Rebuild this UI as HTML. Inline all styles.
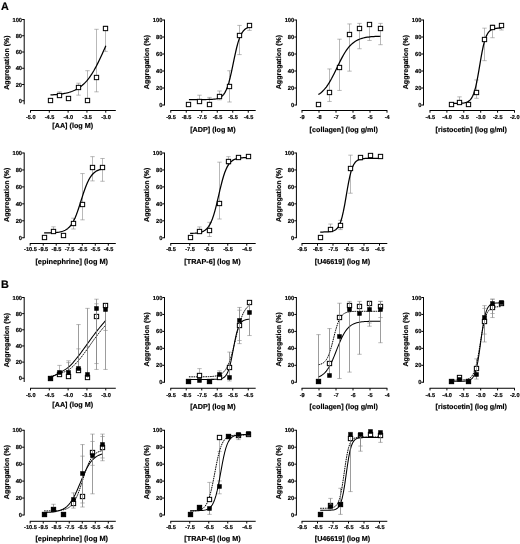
<!DOCTYPE html>
<html><head><meta charset="utf-8"><title>Figure</title>
<style>html,body{margin:0;padding:0;background:#fff;}body{width:520px;height:544px;overflow:hidden;}svg{display:block;filter:blur(0.35px);}</style>
</head><body>
<svg width="520" height="544" viewBox="0 0 520 544" font-family="'Liberation Sans', Arial, sans-serif" fill="#000" stroke="#000" stroke-width="0.18" text-rendering="geometricPrecision">
<path d="M24.2 19.1 V104.3 M24.2 19.5 H22.1 M24.2 35.75 H22.1 M24.2 52 H22.1 M24.2 68.25 H22.1 M24.2 84.5 H22.1 M24.2 100.75 H22.1 M30.1 110.5 H115.8 M30.5 110.5 V112.7 M49.31 110.5 V112.7 M68.12 110.5 V112.7 M86.94 110.5 V112.7 M105.75 110.5 V112.7" fill="none" stroke="#000" stroke-width="1"/>
<text x="22.1" y="21.5" font-size="5.8" font-weight="bold" text-anchor="end">100</text>
<text x="22.1" y="37.75" font-size="5.8" font-weight="bold" text-anchor="end">80</text>
<text x="22.1" y="54" font-size="5.8" font-weight="bold" text-anchor="end">60</text>
<text x="22.1" y="70.25" font-size="5.8" font-weight="bold" text-anchor="end">40</text>
<text x="22.1" y="86.5" font-size="5.8" font-weight="bold" text-anchor="end">20</text>
<text x="22.1" y="102.75" font-size="5.8" font-weight="bold" text-anchor="end">0</text>
<text x="30.7" y="118.5" font-size="5.6" font-weight="bold" text-anchor="middle">-5.0</text>
<text x="49.51" y="118.5" font-size="5.6" font-weight="bold" text-anchor="middle">-4.5</text>
<text x="68.33" y="118.5" font-size="5.6" font-weight="bold" text-anchor="middle">-4.0</text>
<text x="87.14" y="118.5" font-size="5.6" font-weight="bold" text-anchor="middle">-3.5</text>
<text x="105.95" y="118.5" font-size="5.6" font-weight="bold" text-anchor="middle">-3.0</text>
<text x="8.6" y="62.55" font-size="7.05" font-weight="bold" text-anchor="middle" transform="rotate(-90 8.6 62.55)">Aggregation (%)</text>
<text x="72.7" y="128.4" font-size="7.2" font-weight="bold" text-anchor="middle">[AA] (log M)</text>
<path d="M59.5 91.84 V95.7 M57.3 91.84 H61.7 M57.3 95.7 H61.7" fill="none" stroke="#8a8a8a" stroke-width="0.6"/>
<path d="M78.5 83.2 V95.15 M76.3 83.2 H80.7 M76.3 95.15 H80.7" fill="none" stroke="#8a8a8a" stroke-width="0.6"/>
<path d="M87.5 70.69 V100.67 M85.3 70.69 H89.7 M85.3 100.67 H89.7" fill="none" stroke="#8a8a8a" stroke-width="0.6"/>
<path d="M96.5 29.31 V91.84 M94.3 29.31 H98.7 M94.3 91.84 H98.7" fill="none" stroke="#8a8a8a" stroke-width="0.6"/>
<path d="M105.5 26.18 V51.38 M103.3 26.18 H107.7 M103.3 51.38 H107.7" fill="none" stroke="#8a8a8a" stroke-width="0.6"/>
<path d="M50.48 94.96 L51.66 94.9 L52.84 94.82 L54.02 94.74 L55.19 94.65 L56.37 94.54 L57.55 94.43 L58.73 94.3 L59.91 94.15 L61.08 94 L62.26 93.82 L63.44 93.62 L64.62 93.4 L65.79 93.16 L66.97 92.89 L68.15 92.59 L69.33 92.26 L70.51 91.89 L71.68 91.48 L72.86 91.03 L74.04 90.53 L75.22 89.98 L76.39 89.38 L77.57 88.71 L78.75 87.98 L79.93 87.17 L81.11 86.29 L82.28 85.33 L83.46 84.28 L84.64 83.14 L85.82 81.9 L86.99 80.56 L88.17 79.12 L89.35 77.57 L90.53 75.9 L91.71 74.13 L92.88 72.24 L94.06 70.25 L95.24 68.14 L96.42 65.94 L97.59 63.64 L98.77 61.26 L99.95 58.8 L101.13 56.27 L102.31 53.7 L103.48 51.09 L104.66 48.46 L105.84 45.82" fill="none" stroke="#000" stroke-width="1.25" stroke-linejoin="round"/>
<rect x="48.35" y="98.35" width="4.3" height="4.3" fill="#fff" stroke="#000" stroke-width="1"/>
<rect x="57.35" y="93.35" width="4.3" height="4.3" fill="#fff" stroke="#000" stroke-width="1"/>
<rect x="66.35" y="96.35" width="4.3" height="4.3" fill="#fff" stroke="#000" stroke-width="1"/>
<rect x="76.35" y="85.35" width="4.3" height="4.3" fill="#fff" stroke="#000" stroke-width="1"/>
<rect x="85.35" y="98.35" width="4.3" height="4.3" fill="#fff" stroke="#000" stroke-width="1"/>
<rect x="94.35" y="75.35" width="4.3" height="4.3" fill="#fff" stroke="#000" stroke-width="1"/>
<rect x="103.35" y="26.35" width="4.3" height="4.3" fill="#fff" stroke="#000" stroke-width="1"/>
<path d="M164.5 19.6 V105.4 M164.5 20 H162.4 M164.5 37 H162.4 M164.5 54 H162.4 M164.5 71 H162.4 M164.5 88 H162.4 M164.5 105 H162.4 M170.35 110.5 H255.7 M170.75 110.5 V112.7 M186.25 110.5 V112.7 M201.75 110.5 V112.7 M217.25 110.5 V112.7 M232.75 110.5 V112.7 M248.25 110.5 V112.7" fill="none" stroke="#000" stroke-width="1"/>
<text x="162.4" y="22" font-size="5.8" font-weight="bold" text-anchor="end">100</text>
<text x="162.4" y="39" font-size="5.8" font-weight="bold" text-anchor="end">80</text>
<text x="162.4" y="56" font-size="5.8" font-weight="bold" text-anchor="end">60</text>
<text x="162.4" y="73" font-size="5.8" font-weight="bold" text-anchor="end">40</text>
<text x="162.4" y="90" font-size="5.8" font-weight="bold" text-anchor="end">20</text>
<text x="162.4" y="107" font-size="5.8" font-weight="bold" text-anchor="end">0</text>
<text x="170.95" y="118.5" font-size="5.6" font-weight="bold" text-anchor="middle">-9.5</text>
<text x="186.45" y="118.5" font-size="5.6" font-weight="bold" text-anchor="middle">-8.5</text>
<text x="201.95" y="118.5" font-size="5.6" font-weight="bold" text-anchor="middle">-7.5</text>
<text x="217.45" y="118.5" font-size="5.6" font-weight="bold" text-anchor="middle">-6.5</text>
<text x="232.95" y="118.5" font-size="5.6" font-weight="bold" text-anchor="middle">-5.5</text>
<text x="248.45" y="118.5" font-size="5.6" font-weight="bold" text-anchor="middle">-4.5</text>
<text x="148.9" y="62" font-size="7.05" font-weight="bold" text-anchor="middle" transform="rotate(-90 148.9 62)">Aggregation (%)</text>
<text x="212.95" y="131.6" font-size="7.2" font-weight="bold" text-anchor="middle">[ADP] (log M)</text>
<path d="M199.5 95.21 V101.46 M197.3 95.21 H201.7 M197.3 101.46 H201.7" fill="none" stroke="#8a8a8a" stroke-width="0.6"/>
<path d="M209.5 97.42 V104.76 M207.3 97.42 H211.7 M207.3 104.76 H211.7" fill="none" stroke="#8a8a8a" stroke-width="0.6"/>
<path d="M219.5 90.99 V99.8 M217.3 90.99 H221.7 M217.3 99.8 H221.7" fill="none" stroke="#8a8a8a" stroke-width="0.6"/>
<path d="M229.5 70.78 V102.01 M227.3 70.78 H231.7 M227.3 102.01 H231.7" fill="none" stroke="#8a8a8a" stroke-width="0.6"/>
<path d="M239.5 25.41 V54.62 M237.3 25.41 H241.7 M237.3 54.62 H241.7" fill="none" stroke="#8a8a8a" stroke-width="0.6"/>
<path d="M249.5 23.94 V30.37 M247.3 23.94 H251.7 M247.3 30.37 H251.7" fill="none" stroke="#8a8a8a" stroke-width="0.6"/>
<path d="M188.92 99.57 L190.21 99.57 L191.5 99.57 L192.79 99.57 L194.08 99.56 L195.37 99.56 L196.66 99.56 L197.95 99.56 L199.24 99.56 L200.53 99.55 L201.82 99.55 L203.11 99.54 L204.4 99.53 L205.69 99.52 L206.98 99.5 L208.27 99.47 L209.56 99.44 L210.85 99.38 L212.14 99.31 L213.42 99.21 L214.71 99.06 L216 98.85 L217.29 98.56 L218.58 98.16 L219.87 97.6 L221.16 96.82 L222.45 95.76 L223.74 94.31 L225.03 92.36 L226.32 89.8 L227.61 86.51 L228.9 82.4 L230.19 77.48 L231.48 71.84 L232.77 65.71 L234.06 59.42 L235.35 53.32 L236.64 47.74 L237.93 42.89 L239.22 38.85 L240.51 35.63 L241.8 33.13 L243.09 31.23 L244.38 29.82 L245.67 28.78 L246.96 28.02 L248.25 27.48 L249.54 27.09" fill="none" stroke="#000" stroke-width="1.25" stroke-linejoin="round"/>
<rect x="186.35" y="102.35" width="4.3" height="4.3" fill="#fff" stroke="#000" stroke-width="1"/>
<rect x="197.35" y="99.35" width="4.3" height="4.3" fill="#fff" stroke="#000" stroke-width="1"/>
<rect x="207.35" y="102.35" width="4.3" height="4.3" fill="#fff" stroke="#000" stroke-width="1"/>
<rect x="217.35" y="94.35" width="4.3" height="4.3" fill="#fff" stroke="#000" stroke-width="1"/>
<rect x="227.35" y="84.35" width="4.3" height="4.3" fill="#fff" stroke="#000" stroke-width="1"/>
<rect x="237.35" y="33.35" width="4.3" height="4.3" fill="#fff" stroke="#000" stroke-width="1"/>
<rect x="247.35" y="23.35" width="4.3" height="4.3" fill="#fff" stroke="#000" stroke-width="1"/>
<path d="M296.4 19.6 V105.4 M296.4 20 H294.3 M296.4 37 H294.3 M296.4 54 H294.3 M296.4 71 H294.3 M296.4 88 H294.3 M296.4 105 H294.3 M301.6 110.5 H387.3 M302 110.5 V112.7 M319 110.5 V112.7 M336 110.5 V112.7 M353 110.5 V112.7 M370 110.5 V112.7 M387 110.5 V112.7" fill="none" stroke="#000" stroke-width="1"/>
<text x="294.3" y="22" font-size="5.8" font-weight="bold" text-anchor="end">100</text>
<text x="294.3" y="39" font-size="5.8" font-weight="bold" text-anchor="end">80</text>
<text x="294.3" y="56" font-size="5.8" font-weight="bold" text-anchor="end">60</text>
<text x="294.3" y="73" font-size="5.8" font-weight="bold" text-anchor="end">40</text>
<text x="294.3" y="90" font-size="5.8" font-weight="bold" text-anchor="end">20</text>
<text x="294.3" y="107" font-size="5.8" font-weight="bold" text-anchor="end">0</text>
<text x="302.2" y="118.5" font-size="5.6" font-weight="bold" text-anchor="middle">-9</text>
<text x="319.2" y="118.5" font-size="5.6" font-weight="bold" text-anchor="middle">-8</text>
<text x="336.2" y="118.5" font-size="5.6" font-weight="bold" text-anchor="middle">-7</text>
<text x="353.2" y="118.5" font-size="5.6" font-weight="bold" text-anchor="middle">-6</text>
<text x="370.2" y="118.5" font-size="5.6" font-weight="bold" text-anchor="middle">-5</text>
<text x="387.2" y="118.5" font-size="5.6" font-weight="bold" text-anchor="middle">-4</text>
<text x="280.7" y="62" font-size="7.05" font-weight="bold" text-anchor="middle" transform="rotate(-90 280.7 62)">Aggregation (%)</text>
<text x="343.75" y="131.6" font-size="7.2" font-weight="bold" text-anchor="middle">[collagen] (log g/ml)</text>
<path d="M329.5 68.94 V101.46 M327.3 68.94 H331.7 M327.3 101.46 H331.7" fill="none" stroke="#8a8a8a" stroke-width="0.6"/>
<path d="M339.5 39.19 V90.43 M337.3 39.19 H341.7 M337.3 90.43 H341.7" fill="none" stroke="#8a8a8a" stroke-width="0.6"/>
<path d="M349.5 23.94 V71.15 M347.3 23.94 H351.7 M347.3 71.15 H351.7" fill="none" stroke="#8a8a8a" stroke-width="0.6"/>
<path d="M359.5 23.39 V48.74 M357.3 23.39 H361.7 M357.3 48.74 H361.7" fill="none" stroke="#8a8a8a" stroke-width="0.6"/>
<path d="M369.5 23.39 V40.47 M367.3 23.39 H371.7 M367.3 40.47 H371.7" fill="none" stroke="#8a8a8a" stroke-width="0.6"/>
<path d="M380.5 23.39 V44.7 M378.3 23.39 H382.7 M378.3 44.7 H382.7" fill="none" stroke="#8a8a8a" stroke-width="0.6"/>
<path d="M318.37 94.56 L319.69 93.68 L321.01 92.66 L322.33 91.5 L323.65 90.18 L324.97 88.69 L326.29 87.02 L327.62 85.17 L328.94 83.13 L330.26 80.93 L331.58 78.56 L332.9 76.05 L334.22 73.42 L335.54 70.72 L336.86 67.98 L338.18 65.23 L339.5 62.52 L340.83 59.89 L342.15 57.38 L343.47 55 L344.79 52.78 L346.11 50.73 L347.43 48.87 L348.75 47.19 L350.07 45.69 L351.39 44.36 L352.71 43.18 L354.04 42.16 L355.36 41.27 L356.68 40.49 L358 39.83 L359.32 39.26 L360.64 38.77 L361.96 38.35 L363.28 37.99 L364.6 37.69 L365.92 37.43 L367.25 37.22 L368.57 37.03 L369.89 36.88 L371.21 36.74 L372.53 36.63 L373.85 36.54 L375.17 36.46 L376.49 36.39 L377.81 36.33 L379.13 36.29 L380.46 36.25" fill="none" stroke="#000" stroke-width="1.25" stroke-linejoin="round"/>
<rect x="316.35" y="102.35" width="4.3" height="4.3" fill="#fff" stroke="#000" stroke-width="1"/>
<rect x="327.35" y="90.35" width="4.3" height="4.3" fill="#fff" stroke="#000" stroke-width="1"/>
<rect x="337.35" y="65.35" width="4.3" height="4.3" fill="#fff" stroke="#000" stroke-width="1"/>
<rect x="347.35" y="32.35" width="4.3" height="4.3" fill="#fff" stroke="#000" stroke-width="1"/>
<rect x="357.35" y="26.35" width="4.3" height="4.3" fill="#fff" stroke="#000" stroke-width="1"/>
<rect x="367.35" y="22.35" width="4.3" height="4.3" fill="#fff" stroke="#000" stroke-width="1"/>
<rect x="378.35" y="26.35" width="4.3" height="4.3" fill="#fff" stroke="#000" stroke-width="1"/>
<path d="M423.5 19.6 V105.4 M423.5 20 H421.4 M423.5 37 H421.4 M423.5 54 H421.4 M423.5 71 H421.4 M423.5 88 H421.4 M423.5 105 H421.4 M429.6 110.5 H514.8 M430 110.5 V112.7 M446.9 110.5 V112.7 M463.8 110.5 V112.7 M480.7 110.5 V112.7 M497.6 110.5 V112.7 M514.5 110.5 V112.7" fill="none" stroke="#000" stroke-width="1"/>
<text x="421.4" y="22" font-size="5.8" font-weight="bold" text-anchor="end">100</text>
<text x="421.4" y="39" font-size="5.8" font-weight="bold" text-anchor="end">80</text>
<text x="421.4" y="56" font-size="5.8" font-weight="bold" text-anchor="end">60</text>
<text x="421.4" y="73" font-size="5.8" font-weight="bold" text-anchor="end">40</text>
<text x="421.4" y="90" font-size="5.8" font-weight="bold" text-anchor="end">20</text>
<text x="421.4" y="107" font-size="5.8" font-weight="bold" text-anchor="end">0</text>
<text x="430.2" y="118.5" font-size="5.6" font-weight="bold" text-anchor="middle">-4.5</text>
<text x="447.1" y="118.5" font-size="5.6" font-weight="bold" text-anchor="middle">-4.0</text>
<text x="464" y="118.5" font-size="5.6" font-weight="bold" text-anchor="middle">-3.5</text>
<text x="480.9" y="118.5" font-size="5.6" font-weight="bold" text-anchor="middle">-3.0</text>
<text x="497.8" y="118.5" font-size="5.6" font-weight="bold" text-anchor="middle">-2.5</text>
<text x="514.7" y="118.5" font-size="5.6" font-weight="bold" text-anchor="middle">-2.0</text>
<text x="407.8" y="62" font-size="7.05" font-weight="bold" text-anchor="middle" transform="rotate(-90 407.8 62)">Aggregation (%)</text>
<text x="471.25" y="131.6" font-size="7.2" font-weight="bold" text-anchor="middle">[ristocetin] (log g/ml)</text>
<path d="M459.5 96.86 V102.01 M457.3 96.86 H461.7 M457.3 102.01 H461.7" fill="none" stroke="#8a8a8a" stroke-width="0.6"/>
<path d="M476.5 79.96 V98.33 M474.3 79.96 H478.7 M474.3 98.33 H478.7" fill="none" stroke="#8a8a8a" stroke-width="0.6"/>
<path d="M484.5 28.16 V60.68 M482.3 28.16 H486.7 M482.3 60.68 H486.7" fill="none" stroke="#8a8a8a" stroke-width="0.6"/>
<path d="M492.5 24.86 V37.72 M490.3 24.86 H494.7 M490.3 37.72 H494.7" fill="none" stroke="#8a8a8a" stroke-width="0.6"/>
<path d="M501.5 23.94 V30 M499.3 23.94 H503.7 M499.3 30 H503.7" fill="none" stroke="#8a8a8a" stroke-width="0.6"/>
<path d="M451.49 103.41 L452.55 103.41 L453.6 103.4 L454.66 103.39 L455.71 103.38 L456.77 103.37 L457.82 103.35 L458.88 103.32 L459.93 103.28 L460.99 103.22 L462.04 103.14 L463.1 103.03 L464.15 102.88 L465.21 102.67 L466.26 102.37 L467.32 101.96 L468.38 101.4 L469.43 100.62 L470.49 99.57 L471.54 98.14 L472.6 96.23 L473.65 93.74 L474.71 90.54 L475.76 86.55 L476.82 81.75 L477.87 76.23 L478.93 70.16 L479.98 63.86 L481.04 57.65 L482.09 51.86 L483.15 46.75 L484.2 42.41 L485.26 38.89 L486.31 36.11 L487.37 33.97 L488.42 32.35 L489.48 31.15 L490.54 30.26 L491.59 29.62 L492.65 29.15 L493.7 28.81 L494.76 28.56 L495.81 28.39 L496.87 28.26 L497.92 28.17 L498.98 28.11 L500.03 28.06 L501.09 28.03" fill="none" stroke="#000" stroke-width="1.25" stroke-linejoin="round"/>
<rect x="449.35" y="102.35" width="4.3" height="4.3" fill="#fff" stroke="#000" stroke-width="1"/>
<rect x="457.35" y="100.35" width="4.3" height="4.3" fill="#fff" stroke="#000" stroke-width="1"/>
<rect x="466.35" y="102.35" width="4.3" height="4.3" fill="#fff" stroke="#000" stroke-width="1"/>
<rect x="474.35" y="90.35" width="4.3" height="4.3" fill="#fff" stroke="#000" stroke-width="1"/>
<rect x="482.35" y="37.35" width="4.3" height="4.3" fill="#fff" stroke="#000" stroke-width="1"/>
<rect x="490.35" y="25.35" width="4.3" height="4.3" fill="#fff" stroke="#000" stroke-width="1"/>
<rect x="499.35" y="23.35" width="4.3" height="4.3" fill="#fff" stroke="#000" stroke-width="1"/>
<path d="M24.2 152.6 V238.15 M24.2 153 H22.1 M24.2 169.95 H22.1 M24.2 186.9 H22.1 M24.2 203.85 H22.1 M24.2 220.8 H22.1 M24.2 237.75 H22.1 M29.8 243.5 H115.8 M30.2 243.5 V245.7 M43.22 243.5 V245.7 M56.23 243.5 V245.7 M69.25 243.5 V245.7 M82.27 243.5 V245.7 M95.28 243.5 V245.7 M108.3 243.5 V245.7" fill="none" stroke="#000" stroke-width="1"/>
<text x="22.1" y="155" font-size="5.8" font-weight="bold" text-anchor="end">100</text>
<text x="22.1" y="171.95" font-size="5.8" font-weight="bold" text-anchor="end">80</text>
<text x="22.1" y="188.9" font-size="5.8" font-weight="bold" text-anchor="end">60</text>
<text x="22.1" y="205.85" font-size="5.8" font-weight="bold" text-anchor="end">40</text>
<text x="22.1" y="222.8" font-size="5.8" font-weight="bold" text-anchor="end">20</text>
<text x="22.1" y="239.75" font-size="5.8" font-weight="bold" text-anchor="end">0</text>
<text x="30.4" y="251.4" font-size="5.6" font-weight="bold" text-anchor="middle">-10.5</text>
<text x="43.42" y="251.4" font-size="5.6" font-weight="bold" text-anchor="middle">-9.5</text>
<text x="56.43" y="251.4" font-size="5.6" font-weight="bold" text-anchor="middle">-8.5</text>
<text x="69.45" y="251.4" font-size="5.6" font-weight="bold" text-anchor="middle">-7.5</text>
<text x="82.47" y="251.4" font-size="5.6" font-weight="bold" text-anchor="middle">-6.5</text>
<text x="95.48" y="251.4" font-size="5.6" font-weight="bold" text-anchor="middle">-5.5</text>
<text x="108.5" y="251.4" font-size="5.6" font-weight="bold" text-anchor="middle">-4.5</text>
<text x="8.6" y="194.75" font-size="7.05" font-weight="bold" text-anchor="middle" transform="rotate(-90 8.6 194.75)">Aggregation (%)</text>
<text x="71.7" y="264" font-size="7.35" font-weight="bold" text-anchor="middle">[epinephrine] (log M)</text>
<path d="M53.5 226.82 V231.97 M51.3 226.82 H55.7 M51.3 231.97 H55.7" fill="none" stroke="#8a8a8a" stroke-width="0.6"/>
<path d="M73.5 218.19 V229.03 M71.3 218.19 H75.7 M71.3 229.03 H75.7" fill="none" stroke="#8a8a8a" stroke-width="0.6"/>
<path d="M82.5 173.55 V219.84 M80.3 173.55 H84.7 M80.3 219.84 H84.7" fill="none" stroke="#8a8a8a" stroke-width="0.6"/>
<path d="M92.5 156.65 V180.9 M90.3 156.65 H94.7 M90.3 180.9 H94.7" fill="none" stroke="#8a8a8a" stroke-width="0.6"/>
<path d="M102.5 158.49 V181.27 M100.3 158.49 H104.7 M100.3 181.27 H104.7" fill="none" stroke="#8a8a8a" stroke-width="0.6"/>
<path d="M44.14 232.86 L45.38 232.85 L46.61 232.84 L47.85 232.82 L49.08 232.79 L50.32 232.76 L51.55 232.72 L52.79 232.66 L54.02 232.6 L55.26 232.51 L56.49 232.4 L57.73 232.26 L58.96 232.09 L60.2 231.86 L61.43 231.58 L62.67 231.23 L63.9 230.78 L65.14 230.22 L66.37 229.52 L67.61 228.65 L68.84 227.58 L70.08 226.27 L71.31 224.68 L72.55 222.77 L73.78 220.52 L75.02 217.91 L76.25 214.93 L77.49 211.61 L78.72 208.01 L79.96 204.2 L81.19 200.28 L82.43 196.36 L83.66 192.56 L84.9 188.98 L86.13 185.7 L87.37 182.75 L88.6 180.17 L89.84 177.95 L91.07 176.07 L92.31 174.51 L93.54 173.22 L94.78 172.16 L96.01 171.31 L97.25 170.63 L98.48 170.08 L99.72 169.64 L100.95 169.29 L102.19 169.02" fill="none" stroke="#000" stroke-width="1.25" stroke-linejoin="round"/>
<rect x="42.35" y="235.35" width="4.3" height="4.3" fill="#fff" stroke="#000" stroke-width="1"/>
<rect x="51.35" y="229.35" width="4.3" height="4.3" fill="#fff" stroke="#000" stroke-width="1"/>
<rect x="61.35" y="233.35" width="4.3" height="4.3" fill="#fff" stroke="#000" stroke-width="1"/>
<rect x="71.35" y="221.35" width="4.3" height="4.3" fill="#fff" stroke="#000" stroke-width="1"/>
<rect x="80.35" y="202.35" width="4.3" height="4.3" fill="#fff" stroke="#000" stroke-width="1"/>
<rect x="90.35" y="165.35" width="4.3" height="4.3" fill="#fff" stroke="#000" stroke-width="1"/>
<rect x="100.35" y="165.35" width="4.3" height="4.3" fill="#fff" stroke="#000" stroke-width="1"/>
<path d="M164.5 152.6 V238.15 M164.5 153 H162.4 M164.5 169.95 H162.4 M164.5 186.9 H162.4 M164.5 203.85 H162.4 M164.5 220.8 H162.4 M164.5 237.75 H162.4 M170.35 243.5 H255.7 M170.75 243.5 V245.7 M189.75 243.5 V245.7 M208.75 243.5 V245.7 M227.75 243.5 V245.7 M246.75 243.5 V245.7" fill="none" stroke="#000" stroke-width="1"/>
<text x="162.4" y="155" font-size="5.8" font-weight="bold" text-anchor="end">100</text>
<text x="162.4" y="171.95" font-size="5.8" font-weight="bold" text-anchor="end">80</text>
<text x="162.4" y="188.9" font-size="5.8" font-weight="bold" text-anchor="end">60</text>
<text x="162.4" y="205.85" font-size="5.8" font-weight="bold" text-anchor="end">40</text>
<text x="162.4" y="222.8" font-size="5.8" font-weight="bold" text-anchor="end">20</text>
<text x="162.4" y="239.75" font-size="5.8" font-weight="bold" text-anchor="end">0</text>
<text x="170.95" y="251.4" font-size="5.6" font-weight="bold" text-anchor="middle">-8.5</text>
<text x="189.95" y="251.4" font-size="5.6" font-weight="bold" text-anchor="middle">-7.5</text>
<text x="208.95" y="251.4" font-size="5.6" font-weight="bold" text-anchor="middle">-6.5</text>
<text x="227.95" y="251.4" font-size="5.6" font-weight="bold" text-anchor="middle">-5.5</text>
<text x="246.95" y="251.4" font-size="5.6" font-weight="bold" text-anchor="middle">-4.5</text>
<text x="148.9" y="194.75" font-size="7.05" font-weight="bold" text-anchor="middle" transform="rotate(-90 148.9 194.75)">Aggregation (%)</text>
<text x="212.5" y="264" font-size="7.2" font-weight="bold" text-anchor="middle">[TRAP-6] (log M)</text>
<path d="M199.5 226.92 V231.52 M197.3 226.92 H201.7 M197.3 231.52 H201.7" fill="none" stroke="#8a8a8a" stroke-width="0.6"/>
<path d="M209.5 222.32 V236.48 M207.3 222.32 H211.7 M207.3 236.48 H211.7" fill="none" stroke="#8a8a8a" stroke-width="0.6"/>
<path d="M219.5 162.18 V219.01 M217.3 162.18 H221.7 M217.3 219.01 H221.7" fill="none" stroke="#8a8a8a" stroke-width="0.6"/>
<path d="M228.5 156.67 V164.39 M226.3 156.67 H230.7 M226.3 164.39 H230.7" fill="none" stroke="#8a8a8a" stroke-width="0.6"/>
<path d="M190.11 233.4 L191.36 233.36 L192.6 233.31 L193.84 233.25 L195.08 233.17 L196.32 233.05 L197.56 232.91 L198.8 232.71 L200.04 232.45 L201.28 232.12 L202.52 231.67 L203.76 231.08 L205 230.32 L206.24 229.33 L207.48 228.06 L208.72 226.44 L209.96 224.39 L211.2 221.86 L212.44 218.77 L213.68 215.1 L214.92 210.85 L216.16 206.09 L217.4 200.94 L218.64 195.57 L219.88 190.2 L221.12 185.04 L222.37 180.26 L223.61 175.99 L224.85 172.3 L226.09 169.19 L227.33 166.63 L228.57 164.57 L229.81 162.93 L231.05 161.65 L232.29 160.65 L233.53 159.88 L234.77 159.29 L236.01 158.84 L237.25 158.5 L238.49 158.23 L239.73 158.04 L240.97 157.89 L242.21 157.78 L243.45 157.69 L244.69 157.63 L245.93 157.58 L247.17 157.54 L248.41 157.52" fill="none" stroke="#000" stroke-width="1.25" stroke-linejoin="round"/>
<rect x="188.35" y="235.35" width="4.3" height="4.3" fill="#fff" stroke="#000" stroke-width="1"/>
<rect x="197.35" y="229.35" width="4.3" height="4.3" fill="#fff" stroke="#000" stroke-width="1"/>
<rect x="207.35" y="228.35" width="4.3" height="4.3" fill="#fff" stroke="#000" stroke-width="1"/>
<rect x="217.35" y="201.35" width="4.3" height="4.3" fill="#fff" stroke="#000" stroke-width="1"/>
<rect x="226.35" y="159.35" width="4.3" height="4.3" fill="#fff" stroke="#000" stroke-width="1"/>
<rect x="236.35" y="155.35" width="4.3" height="4.3" fill="#fff" stroke="#000" stroke-width="1"/>
<rect x="246.35" y="154.35" width="4.3" height="4.3" fill="#fff" stroke="#000" stroke-width="1"/>
<path d="M296.4 152.6 V238.15 M296.4 153 H294.3 M296.4 169.95 H294.3 M296.4 186.9 H294.3 M296.4 203.85 H294.3 M296.4 220.8 H294.3 M296.4 237.75 H294.3 M301.6 243.5 H387.3 M302 243.5 V245.7 M317.5 243.5 V245.7 M333 243.5 V245.7 M348.5 243.5 V245.7 M364 243.5 V245.7 M379.5 243.5 V245.7" fill="none" stroke="#000" stroke-width="1"/>
<text x="294.3" y="155" font-size="5.8" font-weight="bold" text-anchor="end">100</text>
<text x="294.3" y="171.95" font-size="5.8" font-weight="bold" text-anchor="end">80</text>
<text x="294.3" y="188.9" font-size="5.8" font-weight="bold" text-anchor="end">60</text>
<text x="294.3" y="205.85" font-size="5.8" font-weight="bold" text-anchor="end">40</text>
<text x="294.3" y="222.8" font-size="5.8" font-weight="bold" text-anchor="end">20</text>
<text x="294.3" y="239.75" font-size="5.8" font-weight="bold" text-anchor="end">0</text>
<text x="302.2" y="251.4" font-size="5.6" font-weight="bold" text-anchor="middle">-9.5</text>
<text x="317.7" y="251.4" font-size="5.6" font-weight="bold" text-anchor="middle">-8.5</text>
<text x="333.2" y="251.4" font-size="5.6" font-weight="bold" text-anchor="middle">-7.5</text>
<text x="348.7" y="251.4" font-size="5.6" font-weight="bold" text-anchor="middle">-6.5</text>
<text x="364.2" y="251.4" font-size="5.6" font-weight="bold" text-anchor="middle">-5.5</text>
<text x="379.7" y="251.4" font-size="5.6" font-weight="bold" text-anchor="middle">-4.5</text>
<text x="280.7" y="194.75" font-size="7.05" font-weight="bold" text-anchor="middle" transform="rotate(-90 280.7 194.75)">Aggregation (%)</text>
<text x="342.5" y="264" font-size="7.2" font-weight="bold" text-anchor="middle">[U46619] (log M)</text>
<path d="M330.5 224.07 V229.95 M328.3 224.07 H332.7 M328.3 229.95 H332.7" fill="none" stroke="#8a8a8a" stroke-width="0.6"/>
<path d="M340.5 220.39 V229.58 M338.3 220.39 H342.7 M338.3 229.58 H342.7" fill="none" stroke="#8a8a8a" stroke-width="0.6"/>
<path d="M350.5 155.18 V193.21 M348.3 155.18 H352.7 M348.3 193.21 H352.7" fill="none" stroke="#8a8a8a" stroke-width="0.6"/>
<path d="M360.5 155.55 V160.33 M358.3 155.55 H362.7 M358.3 160.33 H362.7" fill="none" stroke="#8a8a8a" stroke-width="0.6"/>
<path d="M320.21 232.03 L321.5 232.02 L322.79 232.01 L324.07 231.99 L325.36 231.96 L326.65 231.91 L327.94 231.84 L329.23 231.74 L330.52 231.59 L331.81 231.35 L333.1 231 L334.39 230.48 L335.68 229.7 L336.97 228.56 L338.26 226.9 L339.55 224.52 L340.84 221.23 L342.13 216.82 L343.42 211.21 L344.71 204.51 L346 197.08 L347.29 189.49 L348.58 182.36 L349.87 176.18 L351.16 171.17 L352.45 167.34 L353.74 164.53 L355.03 162.54 L356.32 161.16 L357.61 160.21 L358.9 159.58 L360.19 159.15 L361.48 158.86 L362.77 158.67 L364.06 158.55 L365.35 158.46 L366.64 158.41 L367.93 158.37 L369.22 158.35 L370.51 158.33 L371.79 158.32 L373.08 158.31 L374.37 158.31 L375.66 158.3 L376.95 158.3 L378.24 158.3 L379.53 158.3 L380.82 158.3" fill="none" stroke="#000" stroke-width="1.25" stroke-linejoin="round"/>
<rect x="318.35" y="235.35" width="4.3" height="4.3" fill="#fff" stroke="#000" stroke-width="1"/>
<rect x="328.35" y="227.35" width="4.3" height="4.3" fill="#fff" stroke="#000" stroke-width="1"/>
<rect x="338.35" y="223.35" width="4.3" height="4.3" fill="#fff" stroke="#000" stroke-width="1"/>
<rect x="348.35" y="166.35" width="4.3" height="4.3" fill="#fff" stroke="#000" stroke-width="1"/>
<rect x="358.35" y="155.35" width="4.3" height="4.3" fill="#fff" stroke="#000" stroke-width="1"/>
<rect x="368.35" y="153.35" width="4.3" height="4.3" fill="#fff" stroke="#000" stroke-width="1"/>
<rect x="378.35" y="154.35" width="4.3" height="4.3" fill="#fff" stroke="#000" stroke-width="1"/>
<path d="M24.2 297.1 V382 M24.2 297.5 H22.1 M24.2 313.65 H22.1 M24.2 329.8 H22.1 M24.2 345.95 H22.1 M24.2 362.1 H22.1 M24.2 378.25 H22.1 M30.1 388.25 H115.8 M30.5 388.25 V390.45 M49.31 388.25 V390.45 M68.12 388.25 V390.45 M86.94 388.25 V390.45 M105.75 388.25 V390.45" fill="none" stroke="#000" stroke-width="1"/>
<text x="22.1" y="299.5" font-size="5.8" font-weight="bold" text-anchor="end">100</text>
<text x="22.1" y="315.65" font-size="5.8" font-weight="bold" text-anchor="end">80</text>
<text x="22.1" y="331.8" font-size="5.8" font-weight="bold" text-anchor="end">60</text>
<text x="22.1" y="347.95" font-size="5.8" font-weight="bold" text-anchor="end">40</text>
<text x="22.1" y="364.1" font-size="5.8" font-weight="bold" text-anchor="end">20</text>
<text x="22.1" y="380.25" font-size="5.8" font-weight="bold" text-anchor="end">0</text>
<text x="30.7" y="396.5" font-size="5.6" font-weight="bold" text-anchor="middle">-5.0</text>
<text x="49.51" y="396.5" font-size="5.6" font-weight="bold" text-anchor="middle">-4.5</text>
<text x="68.33" y="396.5" font-size="5.6" font-weight="bold" text-anchor="middle">-4.0</text>
<text x="87.14" y="396.5" font-size="5.6" font-weight="bold" text-anchor="middle">-3.5</text>
<text x="105.95" y="396.5" font-size="5.6" font-weight="bold" text-anchor="middle">-3.0</text>
<text x="8.6" y="340.05" font-size="7.05" font-weight="bold" text-anchor="middle" transform="rotate(-90 8.6 340.05)">Aggregation (%)</text>
<text x="72.7" y="406.6" font-size="7.2" font-weight="bold" text-anchor="middle">[AA] (log M)</text>
<path d="M59.5 365.4 V374.97 M57.3 365.4 H61.7 M57.3 374.97 H61.7" fill="none" stroke="#8a8a8a" stroke-width="0.6"/>
<path d="M68.5 360.8 V376.99 M66.3 360.8 H70.7 M66.3 376.99 H70.7" fill="none" stroke="#8a8a8a" stroke-width="0.6"/>
<path d="M68.5 362.64 V372.76 M66.3 362.64 H70.7 M66.3 372.76 H70.7" fill="none" stroke="#8a8a8a" stroke-width="0.6"/>
<path d="M78.5 324.57 V370.37 M76.3 324.57 H80.7 M76.3 370.37 H80.7" fill="none" stroke="#8a8a8a" stroke-width="0.6"/>
<path d="M78.5 348.85 V370.37 M76.3 348.85 H80.7 M76.3 370.37 H80.7" fill="none" stroke="#8a8a8a" stroke-width="0.6"/>
<path d="M87.5 308.39 V377.91 M85.3 308.39 H89.7 M85.3 377.91 H89.7" fill="none" stroke="#8a8a8a" stroke-width="0.6"/>
<path d="M87.5 347.01 V377.91 M85.3 347.01 H89.7 M85.3 377.91 H89.7" fill="none" stroke="#8a8a8a" stroke-width="0.6"/>
<path d="M96.5 299.2 V369.45 M94.3 299.2 H98.7 M94.3 369.45 H98.7" fill="none" stroke="#8a8a8a" stroke-width="0.6"/>
<path d="M96.5 303.79 V363.56 M94.3 303.79 H98.7 M94.3 363.56 H98.7" fill="none" stroke="#8a8a8a" stroke-width="0.6"/>
<path d="M105.5 303.79 V369.45 M103.3 303.79 H107.7 M103.3 369.45 H107.7" fill="none" stroke="#8a8a8a" stroke-width="0.6"/>
<path d="M105.5 303.79 V330.46 M103.3 303.79 H107.7 M103.3 330.46 H107.7" fill="none" stroke="#8a8a8a" stroke-width="0.6"/>
<path d="M50.48 376.44 L51.66 376.15 L52.84 375.85 L54.02 375.52 L55.19 375.17 L56.37 374.8 L57.55 374.41 L58.73 374.01 L59.91 373.6 L61.08 373.17 L62.26 372.74 L63.44 372.28 L64.62 371.79 L65.79 371.26 L66.97 370.69 L68.15 370.05 L69.33 369.35 L70.51 368.51 L71.68 367.55 L72.86 366.48 L74.04 365.32 L75.22 364.1 L76.39 362.84 L77.57 361.55 L78.75 360.25 L79.93 358.87 L81.11 357.41 L82.28 355.88 L83.46 354.3 L84.64 352.69 L85.82 351.07 L86.99 349.46 L88.17 347.86 L89.35 346.22 L90.53 344.54 L91.71 342.84 L92.88 341.15 L94.06 339.48 L95.24 337.84 L96.42 336.27 L97.59 334.76 L98.77 333.27 L99.95 331.81 L101.13 330.38 L102.31 328.97 L103.48 327.6 L104.66 326.25 L105.84 324.94" fill="none" stroke="#000" stroke-width="1" stroke-dasharray="1.6 0.75" stroke-linejoin="round"/>
<path d="M50.48 377.36 L51.66 376.84 L52.84 376.3 L54.02 375.73 L55.19 375.15 L56.37 374.55 L57.55 373.93 L58.73 373.29 L59.91 372.63 L61.08 371.97 L62.26 371.3 L63.44 370.62 L64.62 369.9 L65.79 369.14 L66.97 368.33 L68.15 367.45 L69.33 366.49 L70.51 365.4 L71.68 364.18 L72.86 362.86 L74.04 361.46 L75.22 360.01 L76.39 358.54 L77.57 357.06 L78.75 355.58 L79.93 354.06 L81.11 352.49 L82.28 350.87 L83.46 349.23 L84.64 347.58 L85.82 345.94 L86.99 344.32 L88.17 342.72 L89.35 341.12 L90.53 339.51 L91.71 337.91 L92.88 336.31 L94.06 334.74 L95.24 333.19 L96.42 331.67 L97.59 330.18 L98.77 328.72 L99.95 327.27 L101.13 325.84 L102.31 324.44 L103.48 323.05 L104.66 321.69 L105.84 320.34" fill="none" stroke="#000" stroke-width="1.05" stroke-linejoin="round"/>
<rect x="48.35" y="376.35" width="4.3" height="4.3" fill="#fff" stroke="#000" stroke-width="1"/>
<rect x="57.35" y="372.35" width="4.3" height="4.3" fill="#fff" stroke="#000" stroke-width="1"/>
<rect x="66.35" y="374.35" width="4.3" height="4.3" fill="#fff" stroke="#000" stroke-width="1"/>
<rect x="76.35" y="368.35" width="4.3" height="4.3" fill="#fff" stroke="#000" stroke-width="1"/>
<rect x="85.35" y="375.35" width="4.3" height="4.3" fill="#fff" stroke="#000" stroke-width="1"/>
<rect x="94.35" y="314.35" width="4.3" height="4.3" fill="#fff" stroke="#000" stroke-width="1"/>
<rect x="103.35" y="303.35" width="4.3" height="4.3" fill="#fff" stroke="#000" stroke-width="1"/>
<path d="M68.5 362.64 V372.76" fill="none" stroke="#8a8a8a" stroke-width="0.6"/>
<path d="M78.5 324.57 V370.37" fill="none" stroke="#8a8a8a" stroke-width="0.6"/>
<path d="M87.5 308.39 V377.91" fill="none" stroke="#8a8a8a" stroke-width="0.6"/>
<path d="M96.5 299.2 V369.45" fill="none" stroke="#8a8a8a" stroke-width="0.6"/>
<path d="M96.5 303.79 V363.56" fill="none" stroke="#8a8a8a" stroke-width="0.6"/>
<path d="M105.5 303.79 V369.45" fill="none" stroke="#8a8a8a" stroke-width="0.6"/>
<path d="M105.5 303.79 V330.46" fill="none" stroke="#8a8a8a" stroke-width="0.6"/>
<rect x="48.3" y="376.3" width="4.4" height="4.4" fill="#000"/>
<rect x="57.3" y="370.3" width="4.4" height="4.4" fill="#000"/>
<rect x="66.3" y="370.3" width="4.4" height="4.4" fill="#000"/>
<rect x="76.3" y="366.3" width="4.4" height="4.4" fill="#000"/>
<rect x="85.3" y="372.3" width="4.4" height="4.4" fill="#000"/>
<rect x="94.3" y="306.3" width="4.4" height="4.4" fill="#000"/>
<rect x="103.3" y="307.3" width="4.4" height="4.4" fill="#000"/>
<path d="M164.5 297.1 V382.65 M164.5 297.5 H162.4 M164.5 314.45 H162.4 M164.5 331.4 H162.4 M164.5 348.35 H162.4 M164.5 365.3 H162.4 M164.5 382.25 H162.4 M170.35 388.25 H255.7 M170.75 388.25 V390.45 M186.25 388.25 V390.45 M201.75 388.25 V390.45 M217.25 388.25 V390.45 M232.75 388.25 V390.45 M248.25 388.25 V390.45" fill="none" stroke="#000" stroke-width="1"/>
<text x="162.4" y="299.5" font-size="5.8" font-weight="bold" text-anchor="end">100</text>
<text x="162.4" y="316.45" font-size="5.8" font-weight="bold" text-anchor="end">80</text>
<text x="162.4" y="333.4" font-size="5.8" font-weight="bold" text-anchor="end">60</text>
<text x="162.4" y="350.35" font-size="5.8" font-weight="bold" text-anchor="end">40</text>
<text x="162.4" y="367.3" font-size="5.8" font-weight="bold" text-anchor="end">20</text>
<text x="162.4" y="384.25" font-size="5.8" font-weight="bold" text-anchor="end">0</text>
<text x="170.95" y="396.5" font-size="5.6" font-weight="bold" text-anchor="middle">-9.5</text>
<text x="186.45" y="396.5" font-size="5.6" font-weight="bold" text-anchor="middle">-8.5</text>
<text x="201.95" y="396.5" font-size="5.6" font-weight="bold" text-anchor="middle">-7.5</text>
<text x="217.45" y="396.5" font-size="5.6" font-weight="bold" text-anchor="middle">-6.5</text>
<text x="232.95" y="396.5" font-size="5.6" font-weight="bold" text-anchor="middle">-5.5</text>
<text x="248.45" y="396.5" font-size="5.6" font-weight="bold" text-anchor="middle">-4.5</text>
<text x="148.9" y="339.25" font-size="7.05" font-weight="bold" text-anchor="middle" transform="rotate(-90 148.9 339.25)">Aggregation (%)</text>
<text x="212.95" y="409.4" font-size="7.2" font-weight="bold" text-anchor="middle">[ADP] (log M)</text>
<path d="M199.5 368.62 V375.97 M197.3 368.62 H201.7 M197.3 375.97 H201.7" fill="none" stroke="#8a8a8a" stroke-width="0.6"/>
<path d="M219.5 370.82 V377.25 M217.3 370.82 H221.7 M217.3 377.25 H221.7" fill="none" stroke="#8a8a8a" stroke-width="0.6"/>
<path d="M229.5 352.09 V380.93 M227.3 352.09 H231.7 M227.3 380.93 H231.7" fill="none" stroke="#8a8a8a" stroke-width="0.6"/>
<path d="M239.5 307.45 V340.51 M237.3 307.45 H241.7 M237.3 340.51 H241.7" fill="none" stroke="#8a8a8a" stroke-width="0.6"/>
<path d="M239.5 310.21 V343.64 M237.3 310.21 H241.7 M237.3 343.64 H241.7" fill="none" stroke="#8a8a8a" stroke-width="0.6"/>
<path d="M249.5 302.86 V335.55 M247.3 302.86 H251.7 M247.3 335.55 H251.7" fill="none" stroke="#8a8a8a" stroke-width="0.6"/>
<path d="M188.92 376.82 L190.21 376.82 L191.5 376.82 L192.79 376.82 L194.08 376.82 L195.37 376.82 L196.66 376.81 L197.95 376.81 L199.24 376.81 L200.53 376.8 L201.82 376.79 L203.11 376.78 L204.4 376.76 L205.69 376.74 L206.98 376.71 L208.27 376.67 L209.56 376.62 L210.85 376.55 L212.14 376.45 L213.42 376.32 L214.71 376.16 L216 375.93 L217.29 375.63 L218.58 375.24 L219.87 374.71 L221.16 374.02 L222.45 373.12 L223.74 371.94 L225.03 370.43 L226.32 368.5 L227.61 366.08 L228.9 363.11 L230.19 359.53 L231.48 355.36 L232.77 350.63 L234.06 345.48 L235.35 340.09 L236.64 334.68 L237.93 329.47 L239.22 324.66 L240.51 320.38 L241.8 316.69 L243.09 313.6 L244.38 311.09 L245.67 309.07 L246.96 307.49 L248.25 306.25 L249.54 305.3" fill="none" stroke="#000" stroke-width="1" stroke-dasharray="1.6 0.75" stroke-linejoin="round"/>
<path d="M188.92 379.41 L190.21 379.41 L191.5 379.41 L192.79 379.41 L194.08 379.41 L195.37 379.41 L196.66 379.41 L197.95 379.41 L199.24 379.41 L200.53 379.41 L201.82 379.41 L203.11 379.41 L204.4 379.41 L205.69 379.41 L206.98 379.41 L208.27 379.41 L209.56 379.4 L210.85 379.4 L212.14 379.39 L213.42 379.37 L214.71 379.34 L216 379.3 L217.29 379.23 L218.58 379.12 L219.87 378.95 L221.16 378.68 L222.45 378.25 L223.74 377.58 L225.03 376.53 L226.32 374.95 L227.61 372.59 L228.9 369.21 L230.19 364.63 L231.48 358.84 L232.77 352.13 L234.06 345.12 L235.35 338.53 L236.64 332.94 L237.93 328.58 L239.22 325.4 L240.51 323.19 L241.8 321.72 L243.09 320.75 L244.38 320.13 L245.67 319.74 L246.96 319.48 L248.25 319.33 L249.54 319.23" fill="none" stroke="#000" stroke-width="1.05" stroke-linejoin="round"/>
<rect x="186.35" y="379.35" width="4.3" height="4.3" fill="#fff" stroke="#000" stroke-width="1"/>
<rect x="197.35" y="373.35" width="4.3" height="4.3" fill="#fff" stroke="#000" stroke-width="1"/>
<rect x="207.35" y="379.35" width="4.3" height="4.3" fill="#fff" stroke="#000" stroke-width="1"/>
<rect x="217.35" y="375.35" width="4.3" height="4.3" fill="#fff" stroke="#000" stroke-width="1"/>
<rect x="227.35" y="365.35" width="4.3" height="4.3" fill="#fff" stroke="#000" stroke-width="1"/>
<rect x="237.35" y="323.35" width="4.3" height="4.3" fill="#fff" stroke="#000" stroke-width="1"/>
<rect x="247.35" y="300.35" width="4.3" height="4.3" fill="#fff" stroke="#000" stroke-width="1"/>
<path d="M229.5 352.09 V380.93" fill="none" stroke="#8a8a8a" stroke-width="0.6"/>
<path d="M239.5 307.45 V340.51" fill="none" stroke="#8a8a8a" stroke-width="0.6"/>
<path d="M239.5 310.21 V343.64" fill="none" stroke="#8a8a8a" stroke-width="0.6"/>
<path d="M249.5 302.86 V335.55" fill="none" stroke="#8a8a8a" stroke-width="0.6"/>
<rect x="186.3" y="379.3" width="4.4" height="4.4" fill="#000"/>
<rect x="197.3" y="378.3" width="4.4" height="4.4" fill="#000"/>
<rect x="207.3" y="379.3" width="4.4" height="4.4" fill="#000"/>
<rect x="217.3" y="372.3" width="4.4" height="4.4" fill="#000"/>
<rect x="227.3" y="375.3" width="4.4" height="4.4" fill="#000"/>
<rect x="237.3" y="318.3" width="4.4" height="4.4" fill="#000"/>
<rect x="247.3" y="310.3" width="4.4" height="4.4" fill="#000"/>
<path d="M296.4 297.1 V382.65 M296.4 297.5 H294.3 M296.4 314.45 H294.3 M296.4 331.4 H294.3 M296.4 348.35 H294.3 M296.4 365.3 H294.3 M296.4 382.25 H294.3 M301.6 388.25 H387.3 M302 388.25 V390.45 M319 388.25 V390.45 M336 388.25 V390.45 M353 388.25 V390.45 M370 388.25 V390.45 M387 388.25 V390.45" fill="none" stroke="#000" stroke-width="1"/>
<text x="294.3" y="299.5" font-size="5.8" font-weight="bold" text-anchor="end">100</text>
<text x="294.3" y="316.45" font-size="5.8" font-weight="bold" text-anchor="end">80</text>
<text x="294.3" y="333.4" font-size="5.8" font-weight="bold" text-anchor="end">60</text>
<text x="294.3" y="350.35" font-size="5.8" font-weight="bold" text-anchor="end">40</text>
<text x="294.3" y="367.3" font-size="5.8" font-weight="bold" text-anchor="end">20</text>
<text x="294.3" y="384.25" font-size="5.8" font-weight="bold" text-anchor="end">0</text>
<text x="302.2" y="396.5" font-size="5.6" font-weight="bold" text-anchor="middle">-9</text>
<text x="319.2" y="396.5" font-size="5.6" font-weight="bold" text-anchor="middle">-8</text>
<text x="336.2" y="396.5" font-size="5.6" font-weight="bold" text-anchor="middle">-7</text>
<text x="353.2" y="396.5" font-size="5.6" font-weight="bold" text-anchor="middle">-6</text>
<text x="370.2" y="396.5" font-size="5.6" font-weight="bold" text-anchor="middle">-5</text>
<text x="387.2" y="396.5" font-size="5.6" font-weight="bold" text-anchor="middle">-4</text>
<text x="280.7" y="339.25" font-size="7.05" font-weight="bold" text-anchor="middle" transform="rotate(-90 280.7 339.25)">Aggregation (%)</text>
<text x="343.75" y="409.4" font-size="7.2" font-weight="bold" text-anchor="middle">[collagen] (log g/ml)</text>
<path d="M318.5 334.64 V381.84 M316.3 334.64 H320.7 M316.3 381.84 H320.7" fill="none" stroke="#8a8a8a" stroke-width="0.6"/>
<path d="M329.5 328.57 V375.78 M327.3 328.57 H331.7 M327.3 375.78 H331.7" fill="none" stroke="#8a8a8a" stroke-width="0.6"/>
<path d="M339.5 303.23 V378.54 M337.3 303.23 H341.7 M337.3 378.54 H341.7" fill="none" stroke="#8a8a8a" stroke-width="0.6"/>
<path d="M349.5 301.39 V372.11 M347.3 301.39 H351.7 M347.3 372.11 H351.7" fill="none" stroke="#8a8a8a" stroke-width="0.6"/>
<path d="M359.5 301.39 V354.29 M357.3 301.39 H361.7 M357.3 354.29 H361.7" fill="none" stroke="#8a8a8a" stroke-width="0.6"/>
<path d="M369.5 301.39 V326.19 M367.3 301.39 H371.7 M367.3 326.19 H371.7" fill="none" stroke="#8a8a8a" stroke-width="0.6"/>
<path d="M369.5 301.39 V323.06 M367.3 301.39 H371.7 M367.3 323.06 H371.7" fill="none" stroke="#8a8a8a" stroke-width="0.6"/>
<path d="M380.5 301.39 V342.72 M378.3 301.39 H382.7 M378.3 342.72 H382.7" fill="none" stroke="#8a8a8a" stroke-width="0.6"/>
<path d="M380.5 301.39 V317.55 M378.3 301.39 H382.7 M378.3 317.55 H382.7" fill="none" stroke="#8a8a8a" stroke-width="0.6"/>
<path d="M318.37 364.76 L319.69 364.48 L321.01 364.08 L322.33 363.48 L323.65 362.63 L324.97 361.43 L326.29 359.74 L327.62 357.45 L328.94 354.42 L330.26 350.62 L331.58 346.08 L332.9 341 L334.22 335.73 L335.54 330.65 L336.86 326.1 L338.18 322.28 L339.5 319.25 L340.83 316.94 L342.15 315.25 L343.47 314.03 L344.79 313.18 L346.11 312.58 L347.43 312.17 L348.75 311.89 L350.07 311.7 L351.39 311.57 L352.71 311.48 L354.04 311.42 L355.36 311.38 L356.68 311.36 L358 311.34 L359.32 311.32 L360.64 311.32 L361.96 311.31 L363.28 311.31 L364.6 311.3 L365.92 311.3 L367.25 311.3 L368.57 311.3 L369.89 311.3 L371.21 311.3 L372.53 311.3 L373.85 311.3 L375.17 311.3 L376.49 311.3 L377.81 311.3 L379.13 311.3 L380.46 311.3" fill="none" stroke="#000" stroke-width="1" stroke-dasharray="1.6 0.75" stroke-linejoin="round"/>
<path d="M318.37 377.06 L319.69 376.49 L321.01 375.78 L322.33 374.92 L323.65 373.87 L324.97 372.61 L326.29 371.1 L327.62 369.31 L328.94 367.24 L330.26 364.86 L331.58 362.19 L332.9 359.26 L334.22 356.1 L335.54 352.8 L336.86 349.43 L338.18 346.08 L339.5 342.85 L340.83 339.79 L342.15 336.99 L343.47 334.46 L344.79 332.23 L346.11 330.3 L347.43 328.66 L348.75 327.27 L350.07 326.12 L351.39 325.16 L352.71 324.39 L354.04 323.75 L355.36 323.24 L356.68 322.83 L358 322.49 L359.32 322.23 L360.64 322.01 L361.96 321.84 L363.28 321.71 L364.6 321.6 L365.92 321.52 L367.25 321.45 L368.57 321.39 L369.89 321.35 L371.21 321.32 L372.53 321.29 L373.85 321.27 L375.17 321.25 L376.49 321.24 L377.81 321.23 L379.13 321.22 L380.46 321.21" fill="none" stroke="#000" stroke-width="1.05" stroke-linejoin="round"/>
<rect x="316.35" y="379.35" width="4.3" height="4.3" fill="#fff" stroke="#000" stroke-width="1"/>
<rect x="327.35" y="361.35" width="4.3" height="4.3" fill="#fff" stroke="#000" stroke-width="1"/>
<rect x="337.35" y="315.35" width="4.3" height="4.3" fill="#fff" stroke="#000" stroke-width="1"/>
<rect x="347.35" y="303.35" width="4.3" height="4.3" fill="#fff" stroke="#000" stroke-width="1"/>
<rect x="357.35" y="304.35" width="4.3" height="4.3" fill="#fff" stroke="#000" stroke-width="1"/>
<rect x="367.35" y="301.35" width="4.3" height="4.3" fill="#fff" stroke="#000" stroke-width="1"/>
<rect x="378.35" y="304.35" width="4.3" height="4.3" fill="#fff" stroke="#000" stroke-width="1"/>
<path d="M318.5 334.64 V381.84" fill="none" stroke="#8a8a8a" stroke-width="0.6"/>
<path d="M329.5 328.57 V375.78" fill="none" stroke="#8a8a8a" stroke-width="0.6"/>
<path d="M339.5 303.23 V378.54" fill="none" stroke="#8a8a8a" stroke-width="0.6"/>
<path d="M349.5 301.39 V372.11" fill="none" stroke="#8a8a8a" stroke-width="0.6"/>
<path d="M359.5 301.39 V354.29" fill="none" stroke="#8a8a8a" stroke-width="0.6"/>
<path d="M369.5 301.39 V326.19" fill="none" stroke="#8a8a8a" stroke-width="0.6"/>
<path d="M369.5 301.39 V323.06" fill="none" stroke="#8a8a8a" stroke-width="0.6"/>
<path d="M380.5 301.39 V342.72" fill="none" stroke="#8a8a8a" stroke-width="0.6"/>
<path d="M380.5 301.39 V317.55" fill="none" stroke="#8a8a8a" stroke-width="0.6"/>
<rect x="316.3" y="379.3" width="4.4" height="4.4" fill="#000"/>
<rect x="327.3" y="373.3" width="4.4" height="4.4" fill="#000"/>
<rect x="337.3" y="334.3" width="4.4" height="4.4" fill="#000"/>
<rect x="347.3" y="307.3" width="4.4" height="4.4" fill="#000"/>
<rect x="357.3" y="311.3" width="4.4" height="4.4" fill="#000"/>
<rect x="367.3" y="307.3" width="4.4" height="4.4" fill="#000"/>
<rect x="378.3" y="307.3" width="4.4" height="4.4" fill="#000"/>
<path d="M423.5 297.1 V382.65 M423.5 297.5 H421.4 M423.5 314.45 H421.4 M423.5 331.4 H421.4 M423.5 348.35 H421.4 M423.5 365.3 H421.4 M423.5 382.25 H421.4 M429.6 388.25 H514.8 M430 388.25 V390.45 M446.9 388.25 V390.45 M463.8 388.25 V390.45 M480.7 388.25 V390.45 M497.6 388.25 V390.45 M514.5 388.25 V390.45" fill="none" stroke="#000" stroke-width="1"/>
<text x="421.4" y="299.5" font-size="5.8" font-weight="bold" text-anchor="end">100</text>
<text x="421.4" y="316.45" font-size="5.8" font-weight="bold" text-anchor="end">80</text>
<text x="421.4" y="333.4" font-size="5.8" font-weight="bold" text-anchor="end">60</text>
<text x="421.4" y="350.35" font-size="5.8" font-weight="bold" text-anchor="end">40</text>
<text x="421.4" y="367.3" font-size="5.8" font-weight="bold" text-anchor="end">20</text>
<text x="421.4" y="384.25" font-size="5.8" font-weight="bold" text-anchor="end">0</text>
<text x="430.2" y="396.5" font-size="5.6" font-weight="bold" text-anchor="middle">-4.5</text>
<text x="447.1" y="396.5" font-size="5.6" font-weight="bold" text-anchor="middle">-4.0</text>
<text x="464" y="396.5" font-size="5.6" font-weight="bold" text-anchor="middle">-3.5</text>
<text x="480.9" y="396.5" font-size="5.6" font-weight="bold" text-anchor="middle">-3.0</text>
<text x="497.8" y="396.5" font-size="5.6" font-weight="bold" text-anchor="middle">-2.5</text>
<text x="514.7" y="396.5" font-size="5.6" font-weight="bold" text-anchor="middle">-2.0</text>
<text x="407.8" y="339.25" font-size="7.05" font-weight="bold" text-anchor="middle" transform="rotate(-90 407.8 339.25)">Aggregation (%)</text>
<text x="471.25" y="409.4" font-size="7.2" font-weight="bold" text-anchor="middle">[ristocetin] (log g/ml)</text>
<path d="M476.5 358.88 V379.09 M474.3 358.88 H478.7 M474.3 379.09 H478.7" fill="none" stroke="#8a8a8a" stroke-width="0.6"/>
<path d="M484.5 305.61 V334.09 M482.3 305.61 H486.7 M482.3 334.09 H486.7" fill="none" stroke="#8a8a8a" stroke-width="0.6"/>
<path d="M484.5 308.37 V341.98 M482.3 308.37 H486.7 M482.3 341.98 H486.7" fill="none" stroke="#8a8a8a" stroke-width="0.6"/>
<path d="M492.5 299.18 V317.55 M490.3 299.18 H494.7 M490.3 317.55 H494.7" fill="none" stroke="#8a8a8a" stroke-width="0.6"/>
<path d="M492.5 299.18 V313.51 M490.3 299.18 H494.7 M490.3 313.51 H494.7" fill="none" stroke="#8a8a8a" stroke-width="0.6"/>
<path d="M451.49 380.15 L452.55 380.14 L453.6 380.14 L454.66 380.14 L455.71 380.13 L456.77 380.12 L457.82 380.11 L458.88 380.1 L459.93 380.07 L460.99 380.04 L462.04 380 L463.1 379.93 L464.15 379.84 L465.21 379.7 L466.26 379.51 L467.32 379.24 L468.38 378.86 L469.43 378.32 L470.49 377.55 L471.54 376.49 L472.6 375.03 L473.65 373.04 L474.71 370.4 L475.76 366.95 L476.82 362.63 L477.87 357.43 L478.93 351.47 L479.98 345.03 L481.04 338.48 L482.09 332.24 L483.15 326.63 L484.2 321.85 L485.26 317.97 L486.31 314.93 L487.37 312.63 L488.42 310.92 L489.48 309.67 L490.54 308.77 L491.59 308.12 L492.65 307.66 L493.7 307.34 L494.76 307.11 L495.81 306.95 L496.87 306.84 L497.92 306.76 L498.98 306.71 L500.03 306.67 L501.09 306.64" fill="none" stroke="#000" stroke-width="1" stroke-dasharray="1.6 0.75" stroke-linejoin="round"/>
<path d="M451.49 381.25 L452.55 381.25 L453.6 381.25 L454.66 381.25 L455.71 381.25 L456.77 381.24 L457.82 381.24 L458.88 381.23 L459.93 381.22 L460.99 381.21 L462.04 381.19 L463.1 381.15 L464.15 381.11 L465.21 381.04 L466.26 380.93 L467.32 380.77 L468.38 380.54 L469.43 380.19 L470.49 379.68 L471.54 378.92 L472.6 377.83 L473.65 376.25 L474.71 374.01 L475.76 370.91 L476.82 366.75 L477.87 361.41 L478.93 354.91 L479.98 347.51 L481.04 339.68 L482.09 332.04 L483.15 325.13 L484.2 319.31 L485.26 314.68 L486.31 311.17 L487.37 308.61 L488.42 306.78 L489.48 305.51 L490.54 304.63 L491.59 304.03 L492.65 303.62 L493.7 303.35 L494.76 303.16 L495.81 303.04 L496.87 302.95 L497.92 302.9 L498.98 302.86 L500.03 302.83 L501.09 302.82" fill="none" stroke="#000" stroke-width="1.05" stroke-linejoin="round"/>
<rect x="449.35" y="379.35" width="4.3" height="4.3" fill="#fff" stroke="#000" stroke-width="1"/>
<rect x="457.35" y="375.35" width="4.3" height="4.3" fill="#fff" stroke="#000" stroke-width="1"/>
<rect x="466.35" y="379.35" width="4.3" height="4.3" fill="#fff" stroke="#000" stroke-width="1"/>
<rect x="474.35" y="366.35" width="4.3" height="4.3" fill="#fff" stroke="#000" stroke-width="1"/>
<rect x="482.35" y="319.35" width="4.3" height="4.3" fill="#fff" stroke="#000" stroke-width="1"/>
<rect x="490.35" y="305.35" width="4.3" height="4.3" fill="#fff" stroke="#000" stroke-width="1"/>
<rect x="499.35" y="301.35" width="4.3" height="4.3" fill="#fff" stroke="#000" stroke-width="1"/>
<path d="M476.5 358.88 V379.09" fill="none" stroke="#8a8a8a" stroke-width="0.6"/>
<path d="M484.5 305.61 V334.09" fill="none" stroke="#8a8a8a" stroke-width="0.6"/>
<path d="M484.5 308.37 V341.98" fill="none" stroke="#8a8a8a" stroke-width="0.6"/>
<path d="M492.5 299.18 V317.55" fill="none" stroke="#8a8a8a" stroke-width="0.6"/>
<path d="M492.5 299.18 V313.51" fill="none" stroke="#8a8a8a" stroke-width="0.6"/>
<rect x="449.3" y="379.3" width="4.4" height="4.4" fill="#000"/>
<rect x="457.3" y="377.3" width="4.4" height="4.4" fill="#000"/>
<rect x="466.3" y="379.3" width="4.4" height="4.4" fill="#000"/>
<rect x="474.3" y="372.3" width="4.4" height="4.4" fill="#000"/>
<rect x="482.3" y="315.3" width="4.4" height="4.4" fill="#000"/>
<rect x="490.3" y="301.3" width="4.4" height="4.4" fill="#000"/>
<rect x="499.3" y="300.3" width="4.4" height="4.4" fill="#000"/>
<path d="M24.2 429.85 V515.4 M24.2 430.25 H22.1 M24.2 447.2 H22.1 M24.2 464.15 H22.1 M24.2 481.1 H22.1 M24.2 498.05 H22.1 M24.2 515 H22.1 M29.8 521.3 H115.8 M30.2 521.3 V523.5 M43.22 521.3 V523.5 M56.23 521.3 V523.5 M69.25 521.3 V523.5 M82.27 521.3 V523.5 M95.28 521.3 V523.5 M108.3 521.3 V523.5" fill="none" stroke="#000" stroke-width="1"/>
<text x="22.1" y="432.25" font-size="5.8" font-weight="bold" text-anchor="end">100</text>
<text x="22.1" y="449.2" font-size="5.8" font-weight="bold" text-anchor="end">80</text>
<text x="22.1" y="466.15" font-size="5.8" font-weight="bold" text-anchor="end">60</text>
<text x="22.1" y="483.1" font-size="5.8" font-weight="bold" text-anchor="end">40</text>
<text x="22.1" y="500.05" font-size="5.8" font-weight="bold" text-anchor="end">20</text>
<text x="22.1" y="517" font-size="5.8" font-weight="bold" text-anchor="end">0</text>
<text x="30.4" y="528.9" font-size="5.6" font-weight="bold" text-anchor="middle">-10.5</text>
<text x="43.42" y="528.9" font-size="5.6" font-weight="bold" text-anchor="middle">-9.5</text>
<text x="56.43" y="528.9" font-size="5.6" font-weight="bold" text-anchor="middle">-8.5</text>
<text x="69.45" y="528.9" font-size="5.6" font-weight="bold" text-anchor="middle">-7.5</text>
<text x="82.47" y="528.9" font-size="5.6" font-weight="bold" text-anchor="middle">-6.5</text>
<text x="95.48" y="528.9" font-size="5.6" font-weight="bold" text-anchor="middle">-5.5</text>
<text x="108.5" y="528.9" font-size="5.6" font-weight="bold" text-anchor="middle">-4.5</text>
<text x="8.6" y="472" font-size="7.05" font-weight="bold" text-anchor="middle" transform="rotate(-90 8.6 472)">Aggregation (%)</text>
<text x="71.7" y="541.3" font-size="7.35" font-weight="bold" text-anchor="middle">[epinephrine] (log M)</text>
<path d="M53.5 504.27 V509.05 M51.3 504.27 H55.7 M51.3 509.05 H55.7" fill="none" stroke="#8a8a8a" stroke-width="0.6"/>
<path d="M73.5 492.88 V508.13 M71.3 492.88 H75.7 M71.3 508.13 H75.7" fill="none" stroke="#8a8a8a" stroke-width="0.6"/>
<path d="M82.5 444.57 V507.03 M80.3 444.57 H84.7 M80.3 507.03 H84.7" fill="none" stroke="#8a8a8a" stroke-width="0.6"/>
<path d="M82.5 456.15 V502.99 M80.3 456.15 H84.7 M80.3 502.99 H84.7" fill="none" stroke="#8a8a8a" stroke-width="0.6"/>
<path d="M92.5 434.1 V493.8 M90.3 434.1 H94.7 M90.3 493.8 H94.7" fill="none" stroke="#8a8a8a" stroke-width="0.6"/>
<path d="M92.5 441.45 V465.33 M90.3 441.45 H94.7 M90.3 465.33 H94.7" fill="none" stroke="#8a8a8a" stroke-width="0.6"/>
<path d="M102.5 434.1 V460.74 M100.3 434.1 H104.7 M100.3 460.74 H104.7" fill="none" stroke="#8a8a8a" stroke-width="0.6"/>
<path d="M102.5 436.49 V457.98 M100.3 436.49 H104.7 M100.3 457.98 H104.7" fill="none" stroke="#8a8a8a" stroke-width="0.6"/>
<path d="M44.14 510.89 L45.38 510.88 L46.62 510.87 L47.87 510.86 L49.11 510.85 L50.35 510.83 L51.59 510.81 L52.84 510.78 L54.08 510.74 L55.32 510.69 L56.57 510.63 L57.81 510.55 L59.05 510.44 L60.29 510.31 L61.54 510.14 L62.78 509.91 L64.02 509.63 L65.27 509.26 L66.51 508.79 L67.75 508.2 L68.99 507.45 L70.24 506.5 L71.48 505.33 L72.72 503.88 L73.97 502.11 L75.21 499.98 L76.45 497.48 L77.69 494.58 L78.94 491.32 L80.18 487.74 L81.42 483.93 L82.67 480 L83.91 476.08 L85.15 472.3 L86.39 468.76 L87.64 465.54 L88.88 462.7 L90.12 460.25 L91.37 458.17 L92.61 456.45 L93.85 455.04 L95.09 453.89 L96.34 452.98 L97.58 452.25 L98.82 451.68 L100.07 451.22 L101.31 450.87 L102.55 450.59" fill="none" stroke="#000" stroke-width="1" stroke-dasharray="1.6 0.75" stroke-linejoin="round"/>
<path d="M44.14 512.45 L45.38 512.41 L46.62 512.37 L47.87 512.31 L49.11 512.24 L50.35 512.15 L51.59 512.04 L52.84 511.92 L54.08 511.76 L55.32 511.57 L56.57 511.35 L57.81 511.07 L59.05 510.74 L60.29 510.33 L61.54 509.85 L62.78 509.27 L64.02 508.58 L65.27 507.76 L66.51 506.79 L67.75 505.65 L68.99 504.33 L70.24 502.79 L71.48 501.04 L72.72 499.06 L73.97 496.85 L75.21 494.42 L76.45 491.79 L77.69 488.99 L78.94 486.07 L80.18 483.08 L81.42 480.08 L82.67 477.12 L83.91 474.27 L85.15 471.56 L86.39 469.04 L87.64 466.73 L88.88 464.65 L90.12 462.8 L91.37 461.18 L92.61 459.76 L93.85 458.55 L95.09 457.51 L96.34 456.62 L97.58 455.88 L98.82 455.26 L100.07 454.73 L101.31 454.3 L102.55 453.94" fill="none" stroke="#000" stroke-width="1.05" stroke-linejoin="round"/>
<rect x="42.35" y="512.35" width="4.3" height="4.3" fill="#fff" stroke="#000" stroke-width="1"/>
<rect x="51.35" y="507.35" width="4.3" height="4.3" fill="#fff" stroke="#000" stroke-width="1"/>
<rect x="61.35" y="512.35" width="4.3" height="4.3" fill="#fff" stroke="#000" stroke-width="1"/>
<rect x="71.35" y="501.35" width="4.3" height="4.3" fill="#fff" stroke="#000" stroke-width="1"/>
<rect x="80.35" y="494.35" width="4.3" height="4.3" fill="#fff" stroke="#000" stroke-width="1"/>
<rect x="90.35" y="450.35" width="4.3" height="4.3" fill="#fff" stroke="#000" stroke-width="1"/>
<rect x="100.35" y="445.35" width="4.3" height="4.3" fill="#fff" stroke="#000" stroke-width="1"/>
<path d="M53.5 504.27 V509.05" fill="none" stroke="#8a8a8a" stroke-width="0.6"/>
<path d="M73.5 492.88 V508.13" fill="none" stroke="#8a8a8a" stroke-width="0.6"/>
<path d="M82.5 444.57 V507.03" fill="none" stroke="#8a8a8a" stroke-width="0.6"/>
<path d="M82.5 456.15 V502.99" fill="none" stroke="#8a8a8a" stroke-width="0.6"/>
<path d="M92.5 434.1 V493.8" fill="none" stroke="#8a8a8a" stroke-width="0.6"/>
<path d="M92.5 441.45 V465.33" fill="none" stroke="#8a8a8a" stroke-width="0.6"/>
<path d="M102.5 434.1 V460.74" fill="none" stroke="#8a8a8a" stroke-width="0.6"/>
<path d="M102.5 436.49 V457.98" fill="none" stroke="#8a8a8a" stroke-width="0.6"/>
<rect x="42.3" y="512.3" width="4.4" height="4.4" fill="#000"/>
<rect x="51.3" y="507.3" width="4.4" height="4.4" fill="#000"/>
<rect x="61.3" y="512.3" width="4.4" height="4.4" fill="#000"/>
<rect x="71.3" y="497.3" width="4.4" height="4.4" fill="#000"/>
<rect x="80.3" y="471.3" width="4.4" height="4.4" fill="#000"/>
<rect x="90.3" y="453.3" width="4.4" height="4.4" fill="#000"/>
<rect x="100.3" y="442.3" width="4.4" height="4.4" fill="#000"/>
<path d="M164.5 429.85 V515.4 M164.5 430.25 H162.4 M164.5 447.2 H162.4 M164.5 464.15 H162.4 M164.5 481.1 H162.4 M164.5 498.05 H162.4 M164.5 515 H162.4 M170.35 521.3 H255.7 M170.75 521.3 V523.5 M189.75 521.3 V523.5 M208.75 521.3 V523.5 M227.75 521.3 V523.5 M246.75 521.3 V523.5" fill="none" stroke="#000" stroke-width="1"/>
<text x="162.4" y="432.25" font-size="5.8" font-weight="bold" text-anchor="end">100</text>
<text x="162.4" y="449.2" font-size="5.8" font-weight="bold" text-anchor="end">80</text>
<text x="162.4" y="466.15" font-size="5.8" font-weight="bold" text-anchor="end">60</text>
<text x="162.4" y="483.1" font-size="5.8" font-weight="bold" text-anchor="end">40</text>
<text x="162.4" y="500.05" font-size="5.8" font-weight="bold" text-anchor="end">20</text>
<text x="162.4" y="517" font-size="5.8" font-weight="bold" text-anchor="end">0</text>
<text x="170.95" y="528.9" font-size="5.6" font-weight="bold" text-anchor="middle">-8.5</text>
<text x="189.95" y="528.9" font-size="5.6" font-weight="bold" text-anchor="middle">-7.5</text>
<text x="208.95" y="528.9" font-size="5.6" font-weight="bold" text-anchor="middle">-6.5</text>
<text x="227.95" y="528.9" font-size="5.6" font-weight="bold" text-anchor="middle">-5.5</text>
<text x="246.95" y="528.9" font-size="5.6" font-weight="bold" text-anchor="middle">-4.5</text>
<text x="148.9" y="472" font-size="7.05" font-weight="bold" text-anchor="middle" transform="rotate(-90 148.9 472)">Aggregation (%)</text>
<text x="212.5" y="541.3" font-size="7.2" font-weight="bold" text-anchor="middle">[TRAP-6] (log M)</text>
<path d="M209.5 482.41 V499.31 M207.3 482.41 H211.7 M207.3 499.31 H211.7" fill="none" stroke="#8a8a8a" stroke-width="0.6"/>
<path d="M209.5 508.13 V514.37 M207.3 508.13 H211.7 M207.3 514.37 H211.7" fill="none" stroke="#8a8a8a" stroke-width="0.6"/>
<path d="M219.5 437.78 V493.8 M217.3 437.78 H221.7 M217.3 493.8 H221.7" fill="none" stroke="#8a8a8a" stroke-width="0.6"/>
<path d="M219.5 451.55 V480.94 M217.3 451.55 H221.7 M217.3 480.94 H221.7" fill="none" stroke="#8a8a8a" stroke-width="0.6"/>
<path d="M238.5 434.47 V439.61 M236.3 434.47 H240.7 M236.3 439.61 H240.7" fill="none" stroke="#8a8a8a" stroke-width="0.6"/>
<path d="M190.2 511.1 L191.43 511.06 L192.66 511.01 L193.9 510.95 L195.13 510.85 L196.36 510.71 L197.59 510.53 L198.82 510.26 L200.06 509.9 L201.29 509.38 L202.52 508.68 L203.75 507.71 L204.98 506.39 L206.21 504.61 L207.45 502.25 L208.68 499.19 L209.91 495.34 L211.14 490.64 L212.37 485.15 L213.61 479.04 L214.84 472.6 L216.07 466.18 L217.3 460.14 L218.53 454.76 L219.77 450.19 L221 446.45 L222.23 443.5 L223.46 441.24 L224.69 439.53 L225.93 438.27 L227.16 437.34 L228.39 436.67 L229.62 436.18 L230.85 435.83 L232.09 435.58 L233.32 435.4 L234.55 435.27 L235.78 435.18 L237.01 435.11 L238.24 435.07 L239.48 435.03 L240.71 435.01 L241.94 434.99 L243.17 434.98 L244.4 434.97 L245.64 434.97 L246.87 434.96 L248.1 434.96" fill="none" stroke="#000" stroke-width="1" stroke-dasharray="1.6 0.75" stroke-linejoin="round"/>
<path d="M190.2 510.75 L191.43 510.75 L192.66 510.74 L193.9 510.73 L195.13 510.72 L196.36 510.7 L197.59 510.68 L198.82 510.64 L200.06 510.59 L201.29 510.51 L202.52 510.4 L203.75 510.24 L204.98 510.02 L206.21 509.7 L207.45 509.24 L208.68 508.6 L209.91 507.69 L211.14 506.42 L212.37 504.68 L213.61 502.31 L214.84 499.18 L216.07 495.15 L217.3 490.17 L218.53 484.29 L219.77 477.73 L221 470.84 L222.23 464.07 L223.46 457.83 L224.69 452.4 L225.93 447.91 L227.16 444.36 L228.39 441.65 L229.62 439.62 L230.85 438.14 L232.09 437.08 L233.32 436.32 L234.55 435.78 L235.78 435.4 L237.01 435.13 L238.24 434.95 L239.48 434.82 L240.71 434.73 L241.94 434.66 L243.17 434.62 L244.4 434.59 L245.64 434.57 L246.87 434.55 L248.1 434.54" fill="none" stroke="#000" stroke-width="1.05" stroke-linejoin="round"/>
<rect x="188.35" y="512.35" width="4.3" height="4.3" fill="#fff" stroke="#000" stroke-width="1"/>
<rect x="197.35" y="505.35" width="4.3" height="4.3" fill="#fff" stroke="#000" stroke-width="1"/>
<rect x="207.35" y="497.35" width="4.3" height="4.3" fill="#fff" stroke="#000" stroke-width="1"/>
<rect x="217.35" y="435.35" width="4.3" height="4.3" fill="#fff" stroke="#000" stroke-width="1"/>
<rect x="226.35" y="434.35" width="4.3" height="4.3" fill="#fff" stroke="#000" stroke-width="1"/>
<rect x="236.35" y="433.35" width="4.3" height="4.3" fill="#fff" stroke="#000" stroke-width="1"/>
<rect x="246.35" y="432.35" width="4.3" height="4.3" fill="#fff" stroke="#000" stroke-width="1"/>
<path d="M209.5 508.13 V514.37" fill="none" stroke="#8a8a8a" stroke-width="0.6"/>
<path d="M238.5 434.47 V439.61" fill="none" stroke="#8a8a8a" stroke-width="0.6"/>
<rect x="188.3" y="512.3" width="4.4" height="4.4" fill="#000"/>
<rect x="197.3" y="505.3" width="4.4" height="4.4" fill="#000"/>
<rect x="207.3" y="506.3" width="4.4" height="4.4" fill="#000"/>
<rect x="217.3" y="484.3" width="4.4" height="4.4" fill="#000"/>
<rect x="226.3" y="434.3" width="4.4" height="4.4" fill="#000"/>
<rect x="236.3" y="432.3" width="4.4" height="4.4" fill="#000"/>
<rect x="246.3" y="431.3" width="4.4" height="4.4" fill="#000"/>
<path d="M296.4 429.85 V515.4 M296.4 430.25 H294.3 M296.4 447.2 H294.3 M296.4 464.15 H294.3 M296.4 481.1 H294.3 M296.4 498.05 H294.3 M296.4 515 H294.3 M301.6 521.3 H387.3 M302 521.3 V523.5 M317.5 521.3 V523.5 M333 521.3 V523.5 M348.5 521.3 V523.5 M364 521.3 V523.5 M379.5 521.3 V523.5" fill="none" stroke="#000" stroke-width="1"/>
<text x="294.3" y="432.25" font-size="5.8" font-weight="bold" text-anchor="end">100</text>
<text x="294.3" y="449.2" font-size="5.8" font-weight="bold" text-anchor="end">80</text>
<text x="294.3" y="466.15" font-size="5.8" font-weight="bold" text-anchor="end">60</text>
<text x="294.3" y="483.1" font-size="5.8" font-weight="bold" text-anchor="end">40</text>
<text x="294.3" y="500.05" font-size="5.8" font-weight="bold" text-anchor="end">20</text>
<text x="294.3" y="517" font-size="5.8" font-weight="bold" text-anchor="end">0</text>
<text x="302.2" y="528.9" font-size="5.6" font-weight="bold" text-anchor="middle">-9.5</text>
<text x="317.7" y="528.9" font-size="5.6" font-weight="bold" text-anchor="middle">-8.5</text>
<text x="333.2" y="528.9" font-size="5.6" font-weight="bold" text-anchor="middle">-7.5</text>
<text x="348.7" y="528.9" font-size="5.6" font-weight="bold" text-anchor="middle">-6.5</text>
<text x="364.2" y="528.9" font-size="5.6" font-weight="bold" text-anchor="middle">-5.5</text>
<text x="379.7" y="528.9" font-size="5.6" font-weight="bold" text-anchor="middle">-4.5</text>
<text x="280.7" y="472" font-size="7.05" font-weight="bold" text-anchor="middle" transform="rotate(-90 280.7 472)">Aggregation (%)</text>
<text x="342.5" y="541.3" font-size="7.2" font-weight="bold" text-anchor="middle">[U46619] (log M)</text>
<path d="M330.5 498.39 V509.42 M328.3 498.39 H332.7 M328.3 509.42 H332.7" fill="none" stroke="#8a8a8a" stroke-width="0.6"/>
<path d="M340.5 488.29 V514.37 M338.3 488.29 H342.7 M338.3 514.37 H342.7" fill="none" stroke="#8a8a8a" stroke-width="0.6"/>
<path d="M350.5 432.27 V491.6 M348.3 432.27 H352.7 M348.3 491.6 H352.7" fill="none" stroke="#8a8a8a" stroke-width="0.6"/>
<path d="M360.5 435.39 V451.19 M358.3 435.39 H362.7 M358.3 451.19 H362.7" fill="none" stroke="#8a8a8a" stroke-width="0.6"/>
<path d="M360.5 435.39 V446.04 M358.3 435.39 H362.7 M358.3 446.04 H362.7" fill="none" stroke="#8a8a8a" stroke-width="0.6"/>
<path d="M380.5 432.82 V442.37 M378.3 432.82 H382.7 M378.3 442.37 H382.7" fill="none" stroke="#8a8a8a" stroke-width="0.6"/>
<path d="M320.21 508.31 L321.5 508.31 L322.79 508.3 L324.07 508.29 L325.36 508.28 L326.65 508.25 L327.94 508.21 L329.23 508.14 L330.52 508.02 L331.81 507.82 L333.1 507.49 L334.39 506.94 L335.68 506.04 L336.97 504.58 L338.26 502.28 L339.55 498.77 L340.84 493.66 L342.13 486.78 L343.42 478.37 L344.71 469.25 L346 460.55 L347.29 453.22 L348.58 447.66 L349.87 443.76 L351.16 441.18 L352.45 439.54 L353.74 438.52 L355.03 437.89 L356.32 437.52 L357.61 437.29 L358.9 437.15 L360.19 437.07 L361.48 437.02 L362.77 436.99 L364.06 436.97 L365.35 436.96 L366.64 436.95 L367.93 436.95 L369.22 436.95 L370.51 436.95 L371.79 436.95 L373.08 436.95 L374.37 436.95 L375.66 436.94 L376.95 436.94 L378.24 436.94 L379.53 436.94 L380.82 436.94" fill="none" stroke="#000" stroke-width="1" stroke-dasharray="1.6 0.75" stroke-linejoin="round"/>
<path d="M320.21 510.32 L321.5 510.32 L322.79 510.31 L324.07 510.31 L325.36 510.3 L326.65 510.29 L327.94 510.27 L329.23 510.24 L330.52 510.18 L331.81 510.09 L333.1 509.93 L334.39 509.67 L335.68 509.24 L336.97 508.54 L338.26 507.39 L339.55 505.56 L340.84 502.7 L342.13 498.44 L343.42 492.43 L344.71 484.67 L346 475.67 L347.29 466.45 L348.58 458.13 L349.87 451.44 L351.16 446.54 L352.45 443.2 L353.74 441.02 L355.03 439.65 L356.32 438.8 L357.61 438.28 L358.9 437.97 L360.19 437.78 L361.48 437.67 L362.77 437.6 L364.06 437.56 L365.35 437.53 L366.64 437.52 L367.93 437.51 L369.22 437.5 L370.51 437.5 L371.79 437.5 L373.08 437.5 L374.37 437.5 L375.66 437.5 L376.95 437.5 L378.24 437.5 L379.53 437.5 L380.82 437.5" fill="none" stroke="#000" stroke-width="1.05" stroke-linejoin="round"/>
<rect x="318.35" y="512.35" width="4.3" height="4.3" fill="#fff" stroke="#000" stroke-width="1"/>
<rect x="328.35" y="503.35" width="4.3" height="4.3" fill="#fff" stroke="#000" stroke-width="1"/>
<rect x="338.35" y="502.35" width="4.3" height="4.3" fill="#fff" stroke="#000" stroke-width="1"/>
<rect x="348.35" y="436.35" width="4.3" height="4.3" fill="#fff" stroke="#000" stroke-width="1"/>
<rect x="358.35" y="433.35" width="4.3" height="4.3" fill="#fff" stroke="#000" stroke-width="1"/>
<rect x="368.35" y="432.35" width="4.3" height="4.3" fill="#fff" stroke="#000" stroke-width="1"/>
<rect x="378.35" y="433.35" width="4.3" height="4.3" fill="#fff" stroke="#000" stroke-width="1"/>
<path d="M330.5 498.39 V509.42" fill="none" stroke="#8a8a8a" stroke-width="0.6"/>
<path d="M340.5 488.29 V514.37" fill="none" stroke="#8a8a8a" stroke-width="0.6"/>
<path d="M350.5 432.27 V491.6" fill="none" stroke="#8a8a8a" stroke-width="0.6"/>
<path d="M360.5 435.39 V451.19" fill="none" stroke="#8a8a8a" stroke-width="0.6"/>
<path d="M360.5 435.39 V446.04" fill="none" stroke="#8a8a8a" stroke-width="0.6"/>
<path d="M380.5 432.82 V442.37" fill="none" stroke="#8a8a8a" stroke-width="0.6"/>
<rect x="318.3" y="512.3" width="4.4" height="4.4" fill="#000"/>
<rect x="328.3" y="504.3" width="4.4" height="4.4" fill="#000"/>
<rect x="338.3" y="502.3" width="4.4" height="4.4" fill="#000"/>
<rect x="348.3" y="432.3" width="4.4" height="4.4" fill="#000"/>
<rect x="358.3" y="432.3" width="4.4" height="4.4" fill="#000"/>
<rect x="368.3" y="429.3" width="4.4" height="4.4" fill="#000"/>
<rect x="378.3" y="430.3" width="4.4" height="4.4" fill="#000"/>
<text x="1" y="9.5" font-size="10.8" font-weight="bold" text-anchor="start">A</text>
<text x="1" y="287.6" font-size="10.8" font-weight="bold" text-anchor="start">B</text>
</svg>
</body></html>
